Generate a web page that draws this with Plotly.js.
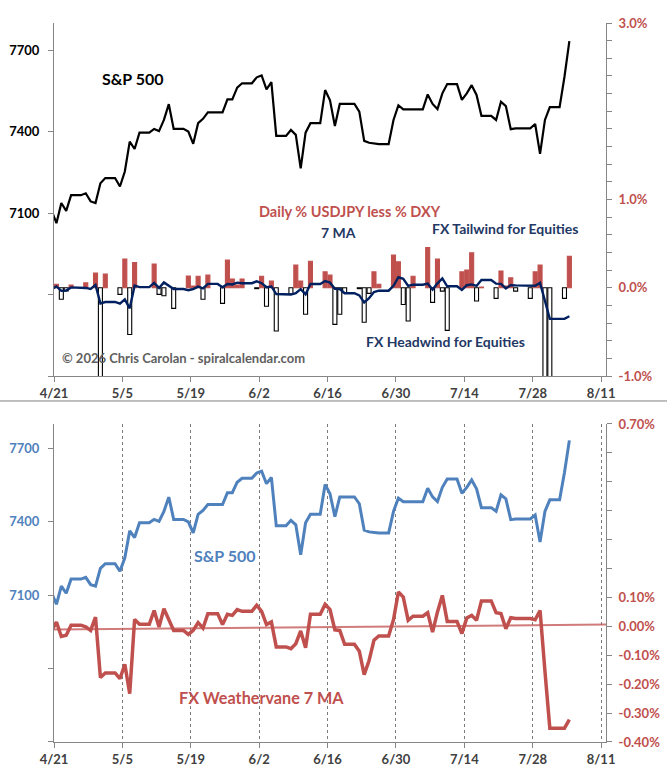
<!DOCTYPE html>
<html><head><meta charset="utf-8">
<script src="https://cdn.plot.ly/plotly-3.0.1.min.js"></script>
<style>html,body{margin:0;padding:0;background:#fff}#chart{width:667px;height:774px}</style>
</head><body><div id="chart"></div>
<script>
const dates = [
'2026-04-20','2026-04-21','2026-04-22','2026-04-23','2026-04-24','2026-04-25','2026-04-26',
'2026-04-27','2026-04-28','2026-04-29','2026-04-30','2026-05-01','2026-05-02','2026-05-03',
'2026-05-04','2026-05-05','2026-05-06','2026-05-07','2026-05-08','2026-05-09','2026-05-10',
'2026-05-11','2026-05-12','2026-05-13','2026-05-14','2026-05-15','2026-05-16','2026-05-17',
'2026-05-18','2026-05-19','2026-05-20','2026-05-21','2026-05-22','2026-05-23','2026-05-24',
'2026-05-25','2026-05-26','2026-05-27','2026-05-28','2026-05-29','2026-05-30','2026-05-31',
'2026-06-01','2026-06-02','2026-06-03','2026-06-04','2026-06-05','2026-06-06','2026-06-07',
'2026-06-08','2026-06-09','2026-06-10','2026-06-11','2026-06-12','2026-06-13','2026-06-14',
'2026-06-15','2026-06-16','2026-06-17','2026-06-18','2026-06-19','2026-06-20','2026-06-21',
'2026-06-22','2026-06-23','2026-06-24','2026-06-25','2026-06-26','2026-06-27','2026-06-28',
'2026-06-29','2026-06-30','2026-07-01','2026-07-02','2026-07-03','2026-07-04','2026-07-05',
'2026-07-06','2026-07-07','2026-07-08','2026-07-09','2026-07-10','2026-07-11','2026-07-12',
'2026-07-13','2026-07-14','2026-07-15','2026-07-16','2026-07-17','2026-07-18','2026-07-19',
'2026-07-20','2026-07-21','2026-07-22','2026-07-23','2026-07-24','2026-07-25','2026-07-26',
'2026-07-27','2026-07-28','2026-07-29','2026-07-30','2026-07-31','2026-08-01','2026-08-02',
'2026-08-03','2026-08-04'];

const spx = [
7110,7063,7137,7108,7166,7166,7166,
7173,7143,7137,7210,7229,7229,7229,
7198,7253,7363,7336,7396,7396,7396,
7410,7402,7443,7501,7410,7410,7410,
7400,7355,7431,7447,7471,7471,7471,
7471,7519,7519,7562,7578,7578,7578,
7600,7607,7556,7582,7384,7384,7384,
7406,7388,7265,7396,7431,7431,7431,
7553,7515,7421,7502,7502,7502,7502,
7474,7366,7359,7356,7354,7354,7354,
7443,7497,7482,7482,7482,7482,7482,
7537,7502,7483,7541,7575,7575,7575,
7517,7541,7571,7535,7458,7458,7458,
7443,7510,7494,7409,7412,7412,7412,
7412,7428,7318,7443,7490,7490,7490,
7602,7733];

const fxDaily = [
null,0.04,-0.13,-0.035,0.03,null,null,
0.055,null,0.166,-1.5,0.155,null,null,
-0.075,0.325,-0.53,0.287,null,null,null,
0.268,-0.075,-0.09,null,-0.234,null,null,
0.132,0.02,0.13,-0.13,0.143,null,null,
-0.177,0.313,0.10,0.03,0.10,null,null,
-0.01,0.13,-0.21,0.075,-0.49,null,null,
-0.07,0.257,0.075,-0.30,0.30,null,null,
0.18,0.143,-0.415,-0.30,-0.057,null,null,
-0.01,-0.39,-0.064,0.18,0.04,null,null,
0.37,0.294,-0.19,-0.377,0.13,null,null,
0.457,-0.166,0.325,-0.038,-0.483,null,null,
0.18,0.20,0.396,-0.15,0.008,null,null,
-0.12,0.19,0.02,0.113,-0.038,null,null,
-0.12,0.18,0.257,-1.4,-1.4,null,null,
-0.12,0.358];

const fx7ma = [
-0.015,0.015,-0.035,-0.031,0.004,0.004,0.004,
-0.002,-0.014,0.032,-0.177,-0.161,-0.161,-0.161,
-0.181,-0.131,-0.233,0.024,0.007,0.007,0.007,
0.055,-0.002,0.061,0.021,-0.014,-0.014,-0.014,
-0.028,-0.014,0.013,-0.006,0.044,0.044,0.044,
0.006,0.042,0.038,0.058,0.052,0.052,0.052,
0.073,0.052,0.006,0.015,-0.071,-0.071,-0.071,
-0.077,-0.060,-0.016,-0.074,0.042,0.042,0.042,
0.076,0.058,-0.012,-0.014,-0.062,-0.062,-0.062,
-0.086,-0.167,-0.118,-0.048,-0.033,-0.033,-0.033,
0.023,0.119,0.101,0.021,0.035,0.035,0.035,
0.047,-0.020,0.050,0.107,0.017,0.017,0.017,
-0.025,0.029,0.038,0.021,0.088,0.088,0.088,
0.047,0.044,-0.008,0.030,0.027,0.027,0.027,
0.027,0.023,0.055,-0.155,-0.352,-0.352,-0.352,
-0.352,-0.323];

const trendDates = ['2026-04-21','2026-08-12'];
const trendVals = [-0.0105, 0.0062];

const xTickVals = ['2026-04-21','2026-05-05','2026-05-19','2026-06-02','2026-06-16','2026-06-30','2026-07-14','2026-07-28','2026-08-11'];
const xTickText = ['4/21','5/5','5/19','6/2','6/16','6/30','7/14','7/28','8/11'];
const spxTickVals = [6500,6800,7100,7400,7700];
const spxTickText = ['','','7100','7400','7700'];
const topPctVals = [-1.0,-0.8,-0.6,-0.4,-0.2,0,0.2,0.4,0.6,0.8,1.0,1.2,1.4,1.6,1.8,2.0,2.2,2.4,2.6,2.8,3.0];
const topPctText = ['-1.0%','','','','','0.0%','','','','','1.0%','','','','','','','','','','3.0%'];
const botPctVals = [-0.4,-0.3,-0.2,-0.1,0,0.1,0.2,0.3,0.4,0.5,0.6,0.7];
const botPctText = ['-0.40%','-0.30%','-0.20%','-0.10%','0.00%','0.10%','','','','','','0.70%'];

const F = 'Lato, "Noto Sans", sans-serif';
const RED = '#c0504d', BLUE = '#4f81bd', NAVY = '#002060', NAVYT = '#1f3864', GRAY = '#868686';
const DAY = 86400000;
const xMid = dates.map(d => d + ' 12:00');

const traces = [
  {x: xMid, y: spx, type: 'scatter', mode: 'lines', xaxis: 'x', yaxis: 'y',
   line: {color: '#000000', width: 2.2}, hoverinfo: 'skip'},
  {x: xMid, y: fxDaily, type: 'bar', xaxis: 'x', yaxis: 'y2', width: 0.82 * DAY,
   marker: {color: fxDaily.map(v => v !== null && v >= 0 ? RED : '#ffffff'),
            line: {color: fxDaily.map(v => v !== null && v >= 0 ? RED : '#000000'), width: 1.1}},
   hoverinfo: 'skip'},
  {x: xMid, y: fx7ma, type: 'scatter', mode: 'lines', xaxis: 'x', yaxis: 'y2',
   line: {color: NAVY, width: 2.4}, hoverinfo: 'skip'},
  {x: xMid, y: spx, type: 'scatter', mode: 'lines', xaxis: 'x2', yaxis: 'y3',
   line: {color: BLUE, width: 3}, hoverinfo: 'skip'},
  {x: trendDates, y: trendVals, type: 'scatter', mode: 'lines', xaxis: 'x2', yaxis: 'y4',
   line: {color: 'rgba(192,80,77,0.75)', width: 2}, hoverinfo: 'skip'},
  {x: xMid, y: fx7ma, type: 'scatter', mode: 'lines', xaxis: 'x2', yaxis: 'y4',
   line: {color: RED, width: 3.5}, hoverinfo: 'skip'}
];

const xBase = {
  type: 'date', range: ['2026-04-21', '2026-08-12'], tickmode: 'array',
  tickvals: xTickVals, ticktext: xTickText, ticks: 'outside', ticklen: 5, tickcolor: GRAY,
  showline: true, linecolor: GRAY, linewidth: 1, zeroline: false, fixedrange: true,
  tickfont: {family: F, size: 13, color: '#404040', weight: 'bold'}
};
const yLeftBase = {
  range: [6500, 7800], tickmode: 'array', tickvals: spxTickVals, ticktext: spxTickText,
  ticks: 'outside', ticklen: 5, tickcolor: GRAY, showline: true, linecolor: GRAY, linewidth: 1,
  showgrid: false, zeroline: false, ticklabelstandoff: 6
};

function note(text, x, y, size, color) {
  return {text: text, xref: 'paper', yref: 'paper', x: x, y: y, xanchor: 'center', yanchor: 'middle',
          showarrow: false, font: {family: F, size: size, color: color, weight: 'bold'}};
}

const layout = {
  width: 667, height: 774, margin: {l: 54, r: 61, t: 23, b: 32},
  paper_bgcolor: '#ffffff', plot_bgcolor: 'rgba(0,0,0,0)', showlegend: false,
  font: {family: F}, bargap: 0,
  xaxis: Object.assign({}, xBase, {domain: [0, 1], anchor: 'y', showgrid: false}),
  yaxis: Object.assign({}, yLeftBase, {domain: [0.509, 1], anchor: 'x',
    tickfont: {family: F, size: 13, color: '#000000', weight: 'bold'}}),
  yaxis2: {overlaying: 'y', side: 'right', anchor: 'x', range: [-1, 3], tickmode: 'array',
    tickvals: topPctVals, ticktext: topPctText, ticks: 'outside', ticklen: 5, tickcolor: GRAY,
    showline: true, linecolor: GRAY, linewidth: 1, showgrid: false, zeroline: false,
    ticklabelstandoff: 4, tickfont: {family: F, size: 13, color: RED, weight: 'bold'}},
  xaxis2: Object.assign({}, xBase, {domain: [0, 1], anchor: 'y3', showgrid: true,
    gridcolor: '#7a7a7a', gridwidth: 1, griddash: '3px,3px'}),
  yaxis3: Object.assign({}, yLeftBase, {domain: [0, 0.4423], anchor: 'x2',
    tickfont: {family: F, size: 13, color: BLUE, weight: 'bold'}}),
  yaxis4: {overlaying: 'y3', side: 'right', anchor: 'x2', range: [-0.4, 0.7], tickmode: 'array',
    tickvals: botPctVals, ticktext: botPctText, ticks: 'outside', ticklen: 5, tickcolor: GRAY,
    showline: true, linecolor: GRAY, linewidth: 1, showgrid: false, zeroline: false,
    ticklabelstandoff: 4, tickfont: {family: F, size: 13, color: RED, weight: 'bold'}},
  shapes: [
    {type: 'line', xref: 'paper', yref: 'paper', x0: -0.1, x1: 1.12, y0: 0.4743, y1: 0.4743,
     line: {color: '#7f7f7f', width: 1}}
  ],
  annotations: [
    note('S&P 500', 0.1431, 0.9235, 16, '#000000'),
    note('Daily % USDJPY less % DXY', 0.5362, 0.7385, 14.5, RED),
    note('7 MA', 0.5145, 0.7093, 14, NAVYT),
    note('FX Tailwind for Equities', 0.817, 0.7135, 14, NAVYT),
    note('FX Headwind for Equities', 0.710, 0.5577, 14, NAVYT),
    note('© 2026 Chris Carolan - spiralcalendar.com', 0.2355, 0.534, 13, '#606060'),
    note('S&P 500', 0.3098, 0.2587, 16, BLUE),
    note('FX Weathervane 7 MA', 0.375, 0.0619, 16.2, RED)
  ]
};

Plotly.newPlot('chart', traces, layout, {staticPlot: true, displayModeBar: false});
</script>
</body></html>
